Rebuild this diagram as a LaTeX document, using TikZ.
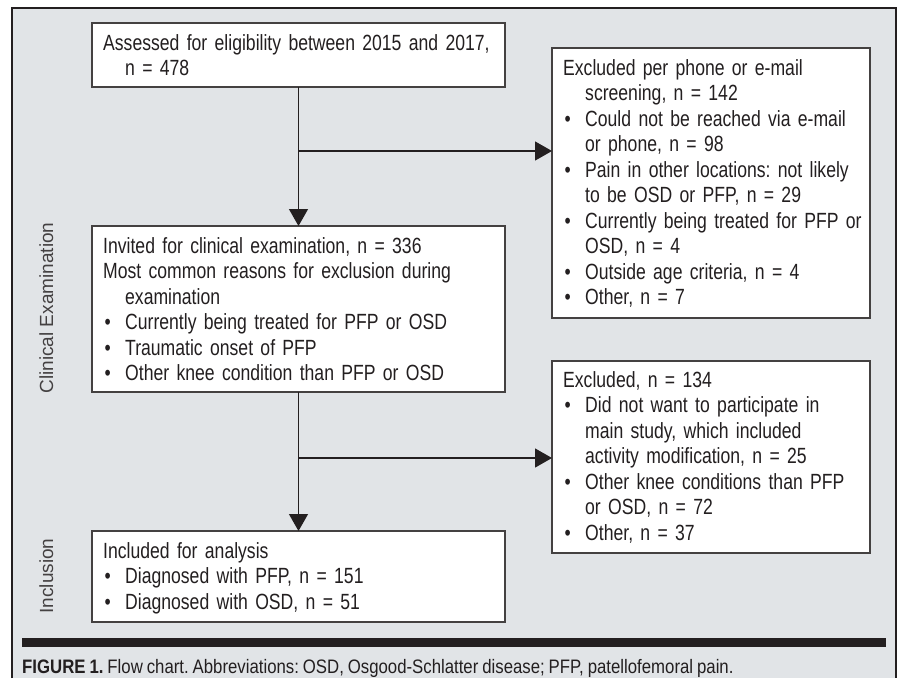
\documentclass[tikz,border=0pt]{standalone}
\usepackage{fontspec}
\setmainfont{Liberation Sans}[FakeStretch=0.80, WordSpace=0.8]
\newfontfamily\capfont{Liberation Sans}[FakeStretch=0.86, WordSpace=0.85]
\newfontfamily\sidefont{Liberation Sans}
\usetikzlibrary{arrows.meta}
\definecolor{bggray}{RGB}{225,228,231}
\definecolor{ink}{RGB}{35,31,32}
\newcommand{\bul}{\makebox[22pt][l]{\hspace{1.5pt}•}}
\newcommand{\ind}{\hspace*{22pt}}
\frenchspacing
\begin{document}
\frenchspacing
\begin{tikzpicture}[x=1pt,y=-1pt,
  boxnode/.style={draw=ink!85, line width=1.4pt, fill=white, anchor=north west, inner sep=0pt, outer sep=0pt},
  txt/.style={anchor=base west, inner sep=0pt, text width=440pt, align=left, font=\fontsize{22}{25.5}\selectfont, text=ink},
  side/.style={rotate=90, anchor=base, inner sep=0pt, font=\sidefont\fontsize{19}{22}\selectfont, text=ink!85},
  arr/.style={draw=ink, line width=1.3pt, -{Triangle[length=17pt,width=19pt]}}]
\useasboundingbox (0,0) rectangle (900,678);
% background panel
\fill[bggray] (12,8) rectangle (896,678);
\draw[ink, line width=1.3pt] (12,678) -- (12,8) -- (896,8) -- (896,678);
% boxes
\node[boxnode, minimum width=413pt, minimum height=64pt] (b1) at (92,23) {};
\node[boxnode, minimum width=318pt, minimum height=270pt] (bA) at (552,48) {};
\node[boxnode, minimum width=413pt, minimum height=166pt] (b2) at (92,226) {};
\node[boxnode, minimum width=318pt, minimum height=192pt] (bB) at (552,361) {};
\node[boxnode, minimum width=413pt, minimum height=91pt] (b3) at (92,531) {};
% texts
\node[txt] (t1) at (103,50) {Assessed for eligibility between 2015 and 2017,\\ \ind n = 478};
\node[txt] (tA) at (563,75) {Excluded per phone or e-mail\\ \ind screening, n = 142\\ \bul Could not be reached via e-mail\\ \ind or phone, n = 98\\ \bul Pain in other locations: not likely\\ \ind to be OSD or PFP, n = 29\\ \bul Currently being treated for PFP or\\ \ind OSD, n = 4\\ \bul Outside age criteria, n = 4\\ \bul Other, n = 7};
\node[txt] (t2) at (103,253) {Invited for clinical examination, n = 336\\ Most common reasons for exclusion during\\ \ind examination\\ \bul Currently being treated for PFP or OSD\\ \bul Traumatic onset of PFP\\ \bul Other knee condition than PFP or OSD};
\node[txt] (tB) at (563,387) {Excluded, n = 134\\ \bul Did not want to participate in\\ \ind main study, which included\\ \ind activity modification, n = 25\\ \bul Other knee conditions than PFP\\ \ind or OSD, n = 72\\ \bul Other, n = 37};
\node[txt] (t3) at (103,558) {Included for analysis\\ \bul Diagnosed with PFP, n = 151\\ \bul Diagnosed with OSD, n = 51};
% side labels
\node[side] (lce) at (53,308) {Clinical Examination};
\node[side] (linc) at (53,576) {Inclusion};
% connectors
\coordinate (j1) at (298.5,151);
\coordinate (j2) at (298.5,458);
\draw[arr] (b1) -- (b2);
\draw[arr] (j1) -- (j1 -| bA.west);
\draw[arr] (b2) -- (b3);
\draw[arr] (j2) -- (j2 -| bB.west);
% bar and caption
\fill[ink] (22,638) rectangle (886,647);
\node[anchor=base west, inner sep=0pt, font=\capfont\fontsize{19.5}{24}\selectfont, text=ink] (cap) at (22,673) {\textbf{FIGURE 1.} Flow chart. Abbreviations: OSD, Osgood-Schlatter disease; PFP, patellofemoral pain.};
\end{tikzpicture}
\end{document}
